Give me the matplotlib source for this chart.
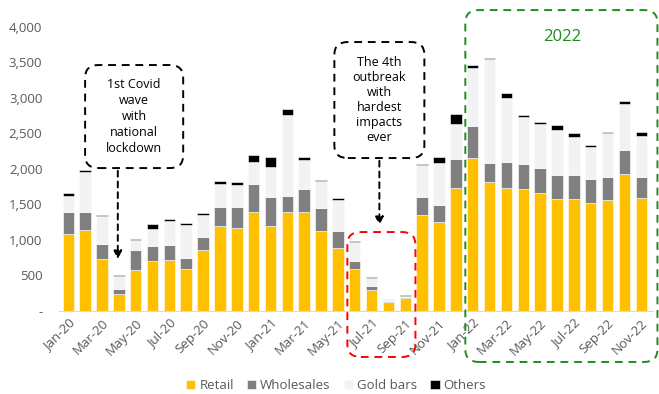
import matplotlib
matplotlib.use("Agg")
import matplotlib.pyplot as plt
from matplotlib.patches import FancyBboxPatch
import numpy as np

months = ["Jan-20", "Feb-20", "Mar-20", "Apr-20", "May-20", "Jun-20", "Jul-20", "Aug-20",
          "Sep-20", "Oct-20", "Nov-20", "Dec-20", "Jan-21", "Feb-21", "Mar-21", "Apr-21",
          "May-21", "Jun-21", "Jul-21", "Aug-21", "Sep-21", "Oct-21", "Nov-21", "Dec-21",
          "Jan-22", "Feb-22", "Mar-22", "Apr-22", "May-22", "Jun-22", "Jul-22", "Aug-22",
          "Sep-22", "Oct-22", "Nov-22"]

retail = [1090, 1145, 735, 240, 580, 710, 720, 595, 865, 1200, 1170, 1390,
          1200, 1390, 1390, 1130, 885, 590, 300, 130, 180, 1350, 1260, 1730,
          2155, 1810, 1730, 1720, 1660, 1575, 1575, 1520, 1565, 1930, 1590]
wholesales = [310, 250, 210, 70, 275, 200, 205, 155, 180, 260, 290, 395,
              400, 235, 330, 320, 235, 120, 50, 10, 15, 260, 235, 410,
              445, 270, 375, 350, 350, 345, 345, 340, 320, 335, 300]
gold_bars = [225, 560, 390, 180, 150, 245, 345, 465, 310, 325, 310, 320,
             435, 1140, 410, 375, 450, 265, 115, 40, 15, 445, 585, 500,
             820, 1465, 890, 660, 630, 630, 535, 455, 615, 650, 580]
others = [40, 25, 20, 15, 12, 75, 25, 25, 30, 45, 50, 90,
          130, 75, 35, 25, 20, 5, 20, 0, 15, 20, 85, 130,
          45, 25, 70, 35, 20, 70, 45, 20, 20, 40, 45]

series = [("Retail", retail, "#FFC000"),
          ("Wholesales", wholesales, "#808080"),
          ("Gold bars", gold_bars, "#F2F2F2"),
          ("Others", others, "#000000")]

plt.rcParams["font.family"] = ["Open Sans", "DejaVu Sans"]
text_grey = "#595959"

fig = plt.figure(figsize=(6.59, 3.94), dpi=100)
ax = fig.add_axes([0.0895, 0.2107, 0.9015, 0.7208])

x = np.arange(len(months))
bottom = np.zeros(len(months))
for name, vals, color in series:
    vals = np.array(vals, dtype=float)
    ax.bar(x, vals, width=0.68, bottom=bottom, color=color, label=name,
           edgecolor="white", linewidth=0.4)
    bottom += vals

ax.set_xlim(-0.55, len(months) - 0.3)
ax.set_ylim(0, 4000)
yt = np.arange(0, 4001, 500)
ax.set_yticks(yt)
ax.set_yticklabels(["-"] + [f"{v:,}" for v in yt[1:]])
ax.set_xticks(x[::2])
ax.set_xticklabels(months[::2], rotation=45, ha="right", rotation_mode="anchor")
ax.tick_params(axis="both", length=0, colors=text_grey, labelsize=9.5)
ax.tick_params(axis="y", pad=12)
ax.tick_params(axis="x", pad=4)
for s in ["top", "right", "left"]:
    ax.spines[s].set_visible(False)
ax.spines["bottom"].set_color("#D9D9D9")

def dashed_box(x0, y0, x1, y1, color, lw=1.4):
    box = FancyBboxPatch((x0, y0), x1 - x0, y1 - y0,
                         boxstyle="round,pad=0,rounding_size=0.8",
                         mutation_aspect=220,
                         fill=False, edgecolor=color, linestyle=(0, (4, 3)),
                         linewidth=lw, clip_on=False, zorder=5)
    ax.add_patch(box)

# 1st Covid wave callout
dashed_box(1.0, 2013, 6.82, 3464, "black")
ax.text(3.91, 2740, "1st Covid\nwave\nwith\nnational\nlockdown", ha="center", va="center",
        fontsize=9, linespacing=1.3, color="black")
ax.annotate("", xy=(2.94, 690), xytext=(2.94, 2013),
            arrowprops=dict(arrowstyle="-|>", linestyle=(0, (3, 2.5)), color="black",
                            lw=1.4, mutation_scale=12))

# 4th outbreak callout
dashed_box(15.79, 2154, 21.13, 3788, "black")
ax.text(18.46, 2970, "The 4th\noutbreak\nwith\nhardest\nimpacts\never", ha="center",
        va="center", fontsize=9, linespacing=1.2, color="black")
ax.annotate("", xy=(18.46, 1169), xytext=(18.46, 2154),
            arrowprops=dict(arrowstyle="-|>", linestyle=(0, (3, 2.5)), color="black",
                            lw=1.4, mutation_scale=12))

# Highlight boxes
dashed_box(16.56, -648, 20.6, 1112, "#FF0000")
dashed_box(23.56, -718, 34.96, 4238, "#1E8C1E")
ax.text(29.3, 3858, "2022", ha="center", va="center", fontsize=12, color="#1E8C1E")

handles, labels = ax.get_legend_handles_labels()
fig.legend(handles, labels, loc="center", bbox_to_anchor=(0.51, 0.022), ncol=4,
           frameon=False, fontsize=9.5, handlelength=0.7, handleheight=0.7,
           handletextpad=0.3, columnspacing=1.0, labelcolor=text_grey)

fig.savefig("out.png", dpi=100)
